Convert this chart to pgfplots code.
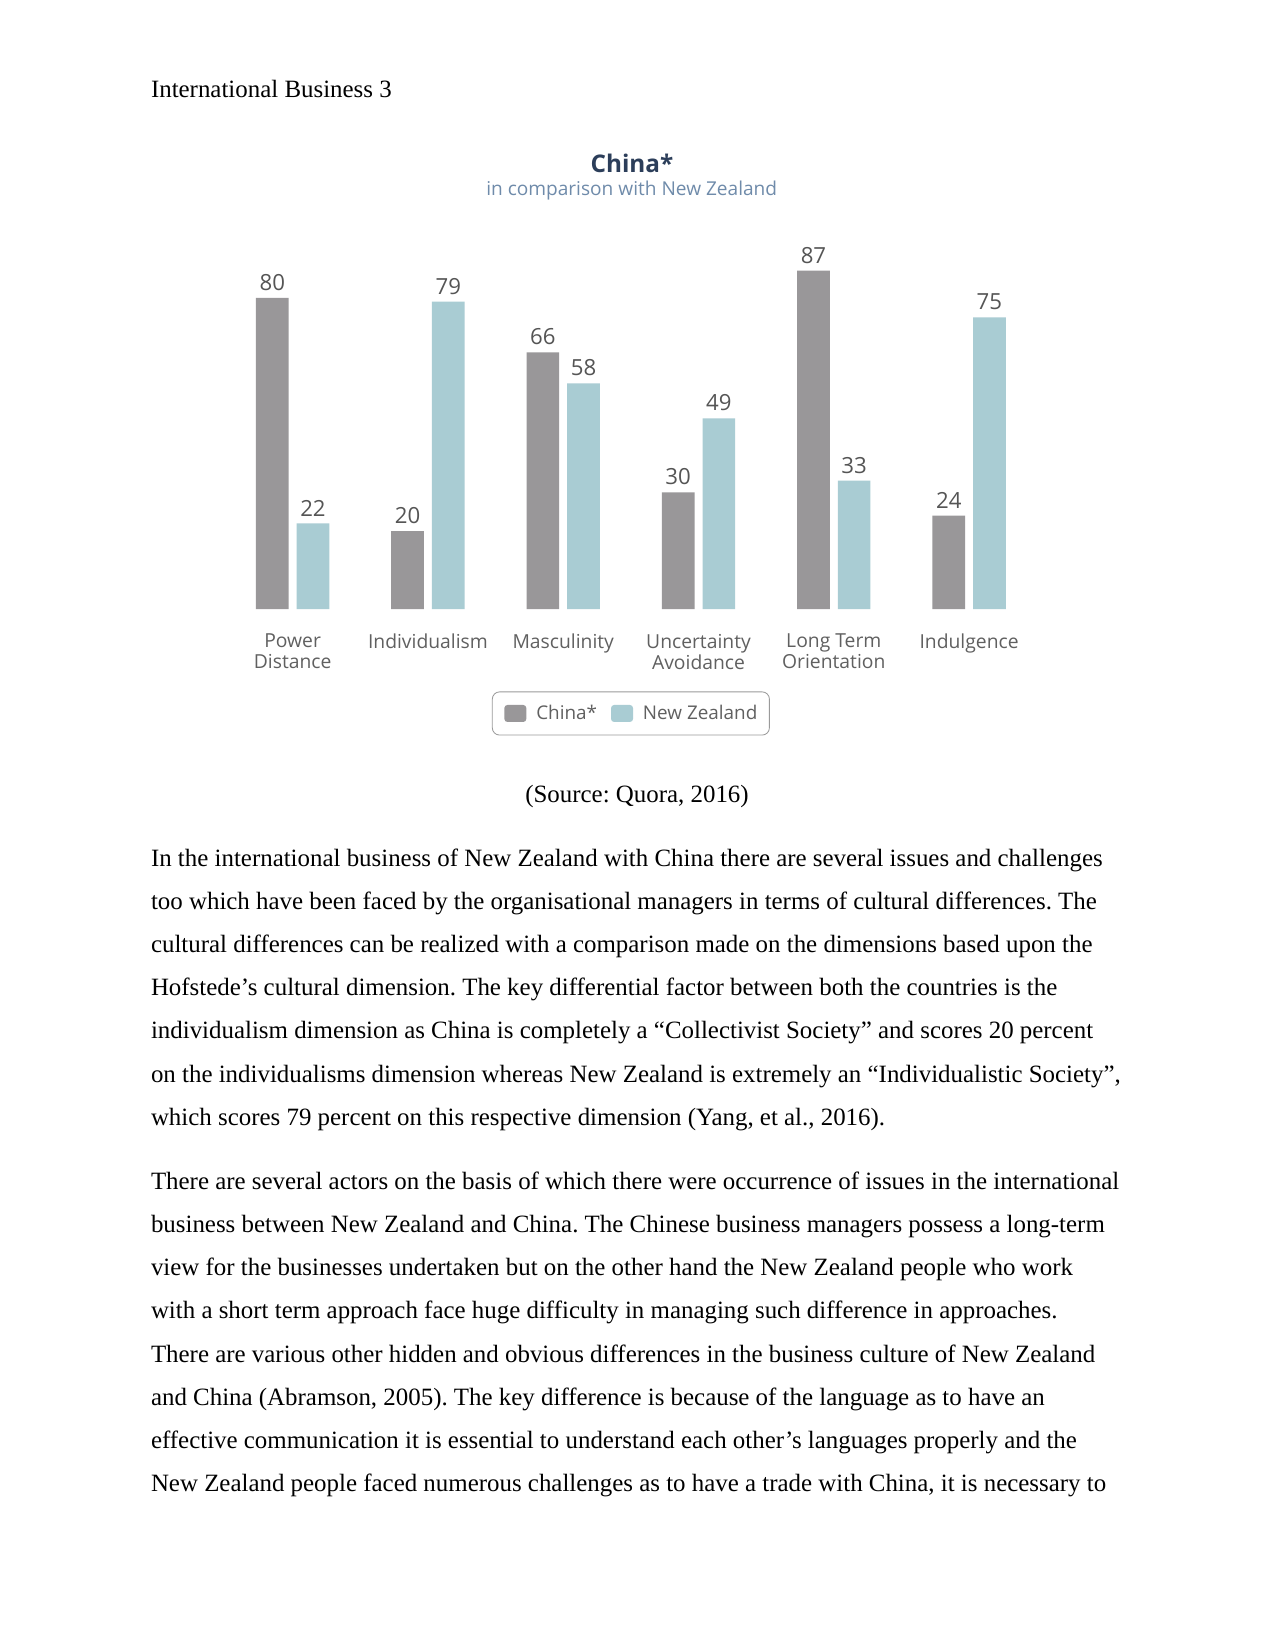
\documentclass[border=0pt]{standalone}
\usepackage{fontspec}
\usepackage{pgfplots}
\pgfplotsset{compat=1.18}
\setmainfont{Liberation Serif}
\newfontfamily\chartfont{Open Sans}
\frenchspacing
\definecolor{chinagray}{HTML}{999799}
\definecolor{nzblue}{HTML}{A9CCD3}
\definecolor{titlenavy}{HTML}{2C3E5A}
\definecolor{subblue}{HTML}{6F8BAA}
\definecolor{labelgray}{HTML}{606060}
\definecolor{numgray}{HTML}{555555}
\definecolor{legendgray}{HTML}{9A9A9A}
\begin{document}
\frenchspacing
\begin{tikzpicture}
\begin{scope}[x=0.48181pt,y=-0.48181pt]
\fill[white] (0,0) rectangle (1275,1651);
\path[use as bounding box] (0,0) rectangle (1275,1651);
\node[anchor=base west,inner sep=0] at (150.6,97) {\fontsize{12}{14}\selectfont International Business 3};
\node[anchor=base,inner sep=0,text=titlenavy] at (632,172.7) {\chartfont\bfseries\fontsize{11.7}{14}\selectfont China*};
\node[anchor=base,inner sep=0,text=subblue] at (631.7,195.5) {\chartfont\fontsize{9.2}{11}\selectfont in comparison with New Zealand};
\node[anchor=base,inner sep=0] at (637,802) {\fontsize{12}{14}\selectfont (Source: Quora, 2016)};
\begin{scope}[every node/.style={anchor=base west,inner sep=0,font=\fontsize{12}{14}\selectfont}]
\node at (150.6,866.2) {In the international business of New Zealand with China there are several issues and challenges};
\node at (150.6,909.4) {too which have been faced by the organisational managers in terms of cultural differences. The};
\node at (150.6,952.5) {cultural differences can be realized with a comparison made on the dimensions based upon the};
\node at (150.6,995.7) {Hofstede’s cultural dimension. The key differential factor between both the countries is the};
\node at (150.6,1038.9) {individualism dimension as China is completely a “Collectivist Society” and scores 20 percent};
\node at (150.6,1082.0) {on the individualisms dimension whereas New Zealand is extremely an “Individualistic Society”,};
\node at (150.6,1125.2) {which scores 79 percent on this respective dimension (Yang, et al., 2016).};
\node at (150.6,1189.4) {There are several actors on the basis of which there were occurrence of issues in the international};
\node at (150.6,1232.6) {business between New Zealand and China. The Chinese business managers possess a long-term};
\node at (150.6,1275.7) {view for the businesses undertaken but on the other hand the New Zealand people who work};
\node at (150.6,1318.9) {with a short term approach face huge difficulty in managing such difference in approaches.};
\node at (150.6,1362.1) {There are various other hidden and obvious differences in the business culture of New Zealand};
\node at (150.6,1405.3) {and China (Abramson, 2005). The key difference is because of the language as to have an};
\node at (150.6,1448.5) {effective communication it is essential to understand each other’s languages properly and the};
\node at (150.6,1491.6) {New Zealand people faced numerous challenges as to have a trade with China, it is necessary to};
\end{scope}
\end{scope}
\begin{axis}[
  at={({225*0.48181pt},{-609*0.48181pt})}, anchor=south west,
  scale only axis, width=391.1pt, height=187.4pt,
  xmin=-0.5, xmax=5.5, ymin=0, ymax=100,
  ybar=3.85pt, bar width=15.75pt,
  legend image code/.code={\fill[#1,draw=none,rounded corners=1.5pt] (0pt,-4.1pt) rectangle (10.6pt,4.1pt);},
  axis line style={draw=none}, ytick=\empty,
  xtick={0,1,2,3,4,5},
  xticklabels={{Power\\Distance},Individualism,Masculinity,{Uncertainty\\Avoidance},{Long Term\\Orientation},Indulgence},
  major tick length=0pt,
  xticklabel style={align=center, font=\chartfont\fontsize{9.3}{10.1}\selectfont, text=labelgray, yshift=-8.5pt},
  /pgf/number format/assume math mode=true,
  nodes near coords,
  every node near coord/.append style={font=\chartfont\fontsize{10.7}{12}\selectfont, text=numgray},
  legend columns=2,
  legend style={at={(0.5,-0.2686)}, anchor=center, draw=legendgray, rounded corners=3.5pt,
    font=\chartfont\fontsize{9.1}{11}\selectfont, text=labelgray,
    inner xsep=5.8pt, inner ysep=6.2pt, nodes={inner sep=0pt},
    /tikz/every odd column/.append style={column sep=4.8pt},
    /tikz/every even column/.append style={column sep=6.7pt}},
  clip=false,
]
\addplot[fill=chinagray, draw=none]
  coordinates {(0,80) (1,20) (2,66) (3,30) (4,87) (5,24)};
\addplot[fill=nzblue, draw=none]
  coordinates {(0,22) (1,79) (2,58) (3,49) (4,33) (5,75)};
\legend{China*, New Zealand}
\end{axis}
\end{tikzpicture}
\end{document}
